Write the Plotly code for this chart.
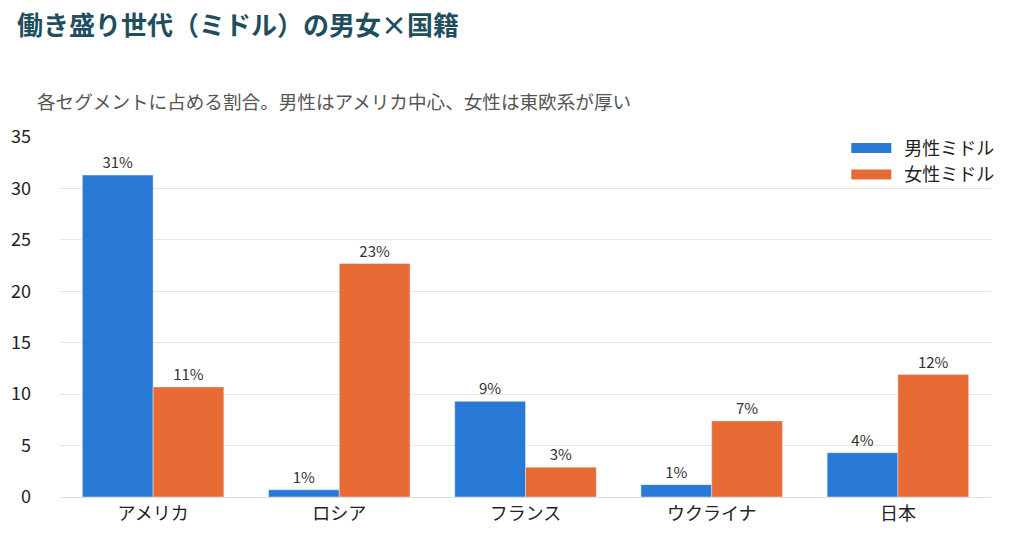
import plotly.graph_objects as go

# 国籍カテゴリと各セグメントの割合(%)
countries = ['アメリカ', 'ロシア', 'フランス', 'ウクライナ', '日本']
male_mid = [31.3, 0.7, 9.3, 1.2, 4.3]
female_mid = [10.7, 22.7, 2.9, 7.4, 11.9]

font_jp = 'Noto Sans CJK JP'
c_male = '#2878d6'
c_female = '#e86a35'

fig = go.Figure()
fig.add_trace(go.Bar(
    x=countries, y=male_mid, name='男性ミドル', showlegend=False,
    marker_color=c_male,
    text=[f'{v:.0f}%' for v in male_mid], textposition='outside',
    textfont=dict(size=15, color='#333333'), cliponaxis=False
))
fig.add_trace(go.Bar(
    x=countries, y=female_mid, name='女性ミドル', showlegend=False,
    marker_color=c_female,
    text=[f'{v:.0f}%' for v in female_mid], textposition='outside',
    textfont=dict(size=15, color='#333333'), cliponaxis=False
))
# 凡例用（横長の色見本）
for name, col in [('男性ミドル', c_male), ('女性ミドル', c_female)]:
    fig.add_trace(go.Scatter(x=[None], y=[None], mode='lines',
                             name='\u00a0\u00a0' + name,
                             line=dict(color=col, width=13)))

fig.update_layout(
    title=dict(text='<b>働き盛り世代（ミドル）の男女×国籍</b>', x=0.009, y=0.966,
               yanchor='middle',
               font=dict(size=26, color='#1f4e5f', family=font_jp)),
    font=dict(family=font_jp, size=17, color='#222222'),
    barmode='group', bargap=0.24, bargroupgap=0,
    plot_bgcolor='white', paper_bgcolor='white',
    margin=dict(l=52, r=25, t=129, b=29),
    legend=dict(x=1.01, y=1.02, xanchor='right', yanchor='top',
                font=dict(size=18), bgcolor='rgba(0,0,0,0)', itemwidth=40),
    annotations=[dict(text='各セグメントに占める割合。男性はアメリカ中心、女性は東欧系が厚い',
                      xref='paper', yref='paper', x=-0.027, y=1.058,
                      xanchor='left', yanchor='bottom', showarrow=False,
                      font=dict(size=18.6, color='#555555'))]
)
fig.update_yaxes(range=[0, 35], dtick=5, gridcolor='#e6e6e6', zeroline=False,
                 tickfont=dict(size=18), ticklabelstandoff=28, automargin=False)
fig.update_xaxes(showline=True, linecolor='#dddddd', tickfont=dict(size=18),
                 automargin=False)

fig.write_html('out.html')
